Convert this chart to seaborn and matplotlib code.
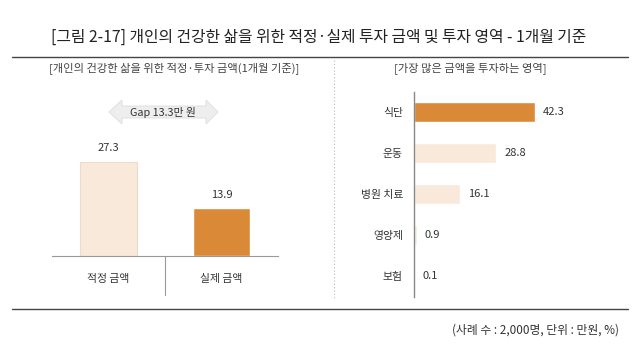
import matplotlib
matplotlib.use("Agg")
import matplotlib.pyplot as plt
import seaborn as sns
import pandas as pd
from matplotlib.lines import Line2D
from matplotlib.patches import Polygon

sns.set_theme(style="white")
plt.rcParams['font.family'] = ['Noto Sans CJK KR', 'DejaVu Sans']

# ---- data ----
title = "[그림 2-17] 개인의 건강한 삶을 위한 적정·실제 투자 금액 및 투자 영역 - 1개월 기준"
left_subtitle = "[개인의 건강한 삶을 위한 적정·투자 금액(1개월 기준)]"
right_subtitle = "[가장 많은 금액을 투자하는 영역]"
footnote = "(사례 수 : 2,000명, 단위 : 만원, %)"
gap_label = "Gap 13.3만 원"

amount_categories = ["적정 금액", "실제 금액"]
amount_values = [27.3, 13.9]

area_categories = ["식단", "운동", "병원 치료", "영양제", "보험"]
area_values = [42.3, 28.8, 16.1, 0.9, 0.1]

ORANGE = "#DA8A36"
LIGHT = "#F8E9DB"
TXT = "#333333"

W, H = 640, 355
fig = plt.figure(figsize=(W / 100, H / 100), dpi=100)
fig.patch.set_facecolor("white")

def fx(px):
    return px / W

def fy(py):
    return 1 - py / H

# title and rules
fig.text(fx(319), fy(37), title, ha="center", va="center", fontsize=11.4, color="#222222")
fig.add_artist(Line2D([fx(12), fx(628)], [fy(57), fy(57)], color="#444444", lw=1.0))
fig.add_artist(Line2D([fx(12), fx(628)], [fy(309), fy(309)], color="#444444", lw=1.0))
fig.text(fx(619), fy(330), footnote, ha="right", va="center", fontsize=8.5, color=TXT)

# dotted separator
fig.add_artist(Line2D([fx(334), fx(334)], [fy(60), fy(300)], color="#BBBBBB", lw=0.8, ls=(0, (1, 2))))

# ---- left panel ----
axL = fig.add_axes([fx(52), fy(256), fx(226), 138 / H])
dfL = pd.DataFrame({"cat": amount_categories, "val": amount_values})
sns.barplot(data=dfL, x="cat", y="val", hue="cat", palette=[LIGHT, ORANGE],
            width=0.5, legend=False, ax=axL, saturation=1)
axL.patches[0].set_edgecolor("#EDDCCB")
axL.patches[0].set_linewidth(0.8)
axL.set_xlim(-0.5, 1.5)
axL.set_ylim(0, 40)
axL.set_xlabel("")
axL.set_ylabel("")
axL.set_yticks([])
for s in ["top", "right", "left"]:
    axL.spines[s].set_visible(False)
axL.spines["bottom"].set_color("#999999")
axL.spines["bottom"].set_linewidth(0.8)
axL.tick_params(axis="x", length=0, pad=13, labelsize=7.8, labelcolor=TXT)
for p, v in zip(axL.patches, amount_values):
    axL.annotate(f"{v}", (p.get_x() + p.get_width() / 2, p.get_height()),
                 xytext=(0, 6), textcoords="offset points", ha="center", va="bottom",
                 fontsize=8, color=TXT)
axL.plot([0.5, 0.5], [0, -11.3], color="#999999", lw=0.8, clip_on=False)

fig.text(fx(174), fy(68), left_subtitle, ha="center", va="center", fontsize=8.1, color="#444444")

# gap double arrow (decoration)
arrow_px = [(109, 112), (122, 100), (122, 106), (206, 106), (206, 100), (218, 112),
            (206, 124), (206, 118), (122, 118), (122, 124)]
fig.add_artist(Polygon([(fx(x), fy(y)) for x, y in arrow_px], closed=True,
                       transform=fig.transFigure, fc="#EEEEEE", ec="#DDDDDD", lw=0.6))
fig.text(fx(163), fy(112), gap_label, ha="center", va="center", fontsize=7.8, color=TXT)

# ---- right panel ----
axR = fig.add_axes([fx(414), fy(296.5), 200 / W, 205 / H])
dfR = pd.DataFrame({"cat": area_categories, "val": area_values})
sns.barplot(data=dfR, y="cat", x="val", hue="cat",
            palette=[ORANGE, LIGHT, LIGHT, LIGHT, LIGHT], width=0.51,
            legend=False, ax=axR, saturation=1, orient="h")
axR.set_xlim(0, 70)
axR.set_ylim(4.5, -0.5)
axR.set_xlabel("")
axR.set_ylabel("")
axR.set_xticks([])
for s in ["top", "right", "bottom"]:
    axR.spines[s].set_visible(False)
axR.spines["left"].set_color("#888888")
axR.spines["left"].set_linewidth(1.0)
axR.tick_params(axis="y", length=0, pad=8, labelsize=7.8, labelcolor=TXT)
for p, v in zip(axR.patches, area_values):
    axR.annotate(f"{v}", (p.get_width(), p.get_y() + p.get_height() / 2),
                 xytext=(6, 0), textcoords="offset points", ha="left", va="center",
                 fontsize=8, color=TXT)

fig.text(fx(470), fy(68), right_subtitle, ha="center", va="center", fontsize=8.1, color="#444444")

fig.savefig("out.png", dpi=100, facecolor="white")
